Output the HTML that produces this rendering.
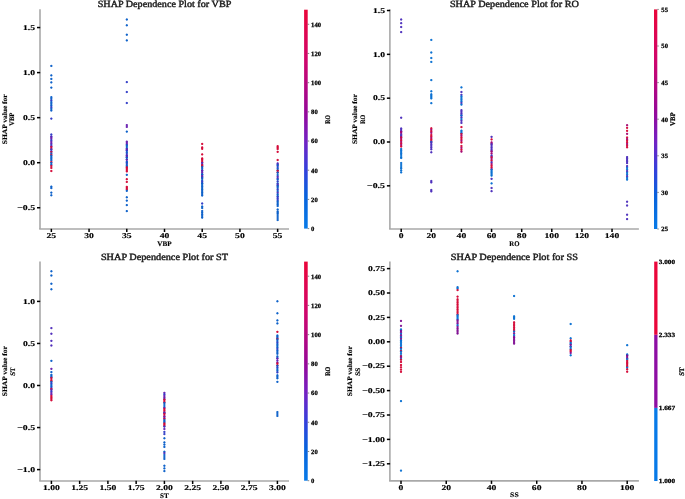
<!DOCTYPE html>
<html><head><meta charset="utf-8"><title>SHAP Dependence Plots</title>
<style>html,body{margin:0;padding:0;background:#fff;width:685px;height:499px;overflow:hidden}svg{display:block;will-change:transform}</style>
</head><body>
<svg width="685" height="499" viewBox="0 0 685 499" font-family="'Liberation Serif', serif" text-rendering="geometricPrecision"><defs><radialGradient id="g0"><stop offset="0.00" stop-color="#075dc8" stop-opacity="1.00"/><stop offset="0.45" stop-color="#075dc8" stop-opacity="0.90"/><stop offset="0.70" stop-color="#075dc8" stop-opacity="0.45"/><stop offset="1.00" stop-color="#075dc8" stop-opacity="0.00"/></radialGradient><radialGradient id="g1"><stop offset="0.00" stop-color="#2e3ac6" stop-opacity="1.00"/><stop offset="0.45" stop-color="#2e3ac6" stop-opacity="0.90"/><stop offset="0.70" stop-color="#2e3ac6" stop-opacity="0.45"/><stop offset="1.00" stop-color="#2e3ac6" stop-opacity="0.00"/></radialGradient><radialGradient id="g2"><stop offset="0.00" stop-color="#671eaf" stop-opacity="1.00"/><stop offset="0.45" stop-color="#671eaf" stop-opacity="0.90"/><stop offset="0.70" stop-color="#671eaf" stop-opacity="0.45"/><stop offset="1.00" stop-color="#671eaf" stop-opacity="0.00"/></radialGradient><radialGradient id="g3"><stop offset="0.00" stop-color="#d30534" stop-opacity="1.00"/><stop offset="0.45" stop-color="#d30534" stop-opacity="0.90"/><stop offset="0.70" stop-color="#d30534" stop-opacity="0.45"/><stop offset="1.00" stop-color="#d30534" stop-opacity="0.00"/></radialGradient><radialGradient id="g4"><stop offset="0.00" stop-color="#4d2aba" stop-opacity="1.00"/><stop offset="0.45" stop-color="#4d2aba" stop-opacity="0.90"/><stop offset="0.70" stop-color="#4d2aba" stop-opacity="0.45"/><stop offset="1.00" stop-color="#4d2aba" stop-opacity="0.00"/></radialGradient><radialGradient id="g5"><stop offset="0.00" stop-color="#4a2cbb" stop-opacity="1.00"/><stop offset="0.45" stop-color="#4a2cbb" stop-opacity="0.90"/><stop offset="0.70" stop-color="#4a2cbb" stop-opacity="0.45"/><stop offset="1.00" stop-color="#4a2cbb" stop-opacity="0.00"/></radialGradient><radialGradient id="g6"><stop offset="0.00" stop-color="#a40672" stop-opacity="1.00"/><stop offset="0.45" stop-color="#a40672" stop-opacity="0.90"/><stop offset="0.70" stop-color="#a40672" stop-opacity="0.45"/><stop offset="1.00" stop-color="#a40672" stop-opacity="0.00"/></radialGradient><radialGradient id="g7"><stop offset="0.00" stop-color="#066ed1" stop-opacity="1.00"/><stop offset="0.45" stop-color="#066ed1" stop-opacity="0.90"/><stop offset="0.70" stop-color="#066ed1" stop-opacity="0.45"/><stop offset="1.00" stop-color="#066ed1" stop-opacity="0.00"/></radialGradient><radialGradient id="g8"><stop offset="0.00" stop-color="#7f0d92" stop-opacity="1.00"/><stop offset="0.45" stop-color="#7f0d92" stop-opacity="0.90"/><stop offset="0.70" stop-color="#7f0d92" stop-opacity="0.45"/><stop offset="1.00" stop-color="#7f0d92" stop-opacity="0.00"/></radialGradient><linearGradient id="cmapgrad" x1="0" y1="0" x2="0" y2="1"><stop offset="0.000" stop-color="#ea063a"/><stop offset="0.030" stop-color="#e7063f"/><stop offset="0.061" stop-color="#e40646"/><stop offset="0.091" stop-color="#e0064d"/><stop offset="0.121" stop-color="#dd0654"/><stop offset="0.152" stop-color="#d9065a"/><stop offset="0.182" stop-color="#d60661"/><stop offset="0.212" stop-color="#d20668"/><stop offset="0.242" stop-color="#cd066e"/><stop offset="0.273" stop-color="#c50674"/><stop offset="0.303" stop-color="#be077a"/><stop offset="0.333" stop-color="#b6077f"/><stop offset="0.364" stop-color="#af0785"/><stop offset="0.394" stop-color="#a7078a"/><stop offset="0.424" stop-color="#a00890"/><stop offset="0.455" stop-color="#980896"/><stop offset="0.485" stop-color="#910b9e"/><stop offset="0.515" stop-color="#8911a8"/><stop offset="0.545" stop-color="#8117b2"/><stop offset="0.576" stop-color="#7a1cbc"/><stop offset="0.606" stop-color="#7023c4"/><stop offset="0.636" stop-color="#612aca"/><stop offset="0.667" stop-color="#5231d0"/><stop offset="0.697" stop-color="#4438d5"/><stop offset="0.727" stop-color="#353fdb"/><stop offset="0.758" stop-color="#2a47dc"/><stop offset="0.788" stop-color="#1f50dc"/><stop offset="0.818" stop-color="#1459dc"/><stop offset="0.848" stop-color="#0961dc"/><stop offset="0.879" stop-color="#0867de"/><stop offset="0.909" stop-color="#086ce0"/><stop offset="0.939" stop-color="#0871e3"/><stop offset="0.970" stop-color="#0876e5"/><stop offset="1.000" stop-color="#077ae8"/></linearGradient></defs><text x="164.50" y="7.40" font-size="9.50" font-weight="normal" text-anchor="middle" textLength="133.61" lengthAdjust="spacingAndGlyphs" fill="#1a1a1a" stroke="#1a1a1a" stroke-width="0.42">SHAP Dependence Plot for VBP</text>
<line x1="40.00" y1="9.20" x2="40.00" y2="229.00" stroke="#a9a9a9" stroke-width="1.60"/>
<line x1="39.20" y1="229.00" x2="289.00" y2="229.00" stroke="#a9a9a9" stroke-width="1.60"/>
<line x1="37.00" y1="207.75" x2="40.20" y2="207.75" stroke="#000" stroke-width="1.50"/>
<text x="35.10" y="209.95" font-size="7.40" font-weight="bold" text-anchor="end" textLength="17.90" lengthAdjust="spacingAndGlyphs" fill="#000" stroke="#000" stroke-width="0.15">−0.5</text>
<line x1="37.00" y1="162.70" x2="40.20" y2="162.70" stroke="#000" stroke-width="1.50"/>
<text x="35.10" y="164.90" font-size="7.40" font-weight="bold" text-anchor="end" textLength="12.08" lengthAdjust="spacingAndGlyphs" fill="#000" stroke="#000" stroke-width="0.15">0.0</text>
<line x1="37.00" y1="117.65" x2="40.20" y2="117.65" stroke="#000" stroke-width="1.50"/>
<text x="35.10" y="119.85" font-size="7.40" font-weight="bold" text-anchor="end" textLength="12.08" lengthAdjust="spacingAndGlyphs" fill="#000" stroke="#000" stroke-width="0.15">0.5</text>
<line x1="37.00" y1="72.60" x2="40.20" y2="72.60" stroke="#000" stroke-width="1.50"/>
<text x="35.10" y="74.80" font-size="7.40" font-weight="bold" text-anchor="end" textLength="12.08" lengthAdjust="spacingAndGlyphs" fill="#000" stroke="#000" stroke-width="0.15">1.0</text>
<line x1="37.00" y1="27.55" x2="40.20" y2="27.55" stroke="#000" stroke-width="1.50"/>
<text x="35.10" y="29.75" font-size="7.40" font-weight="bold" text-anchor="end" textLength="12.08" lengthAdjust="spacingAndGlyphs" fill="#000" stroke="#000" stroke-width="0.15">1.5</text>
<line x1="51.35" y1="228.80" x2="51.35" y2="232.00" stroke="#000" stroke-width="1.50"/>
<text x="51.35" y="238.00" font-size="7.40" font-weight="bold" text-anchor="middle" textLength="9.66" lengthAdjust="spacingAndGlyphs" fill="#000" stroke="#000" stroke-width="0.15">25</text>
<line x1="89.06" y1="228.80" x2="89.06" y2="232.00" stroke="#000" stroke-width="1.50"/>
<text x="89.06" y="238.00" font-size="7.40" font-weight="bold" text-anchor="middle" textLength="9.66" lengthAdjust="spacingAndGlyphs" fill="#000" stroke="#000" stroke-width="0.15">30</text>
<line x1="126.78" y1="228.80" x2="126.78" y2="232.00" stroke="#000" stroke-width="1.50"/>
<text x="126.78" y="238.00" font-size="7.40" font-weight="bold" text-anchor="middle" textLength="9.66" lengthAdjust="spacingAndGlyphs" fill="#000" stroke="#000" stroke-width="0.15">35</text>
<line x1="164.50" y1="228.80" x2="164.50" y2="232.00" stroke="#000" stroke-width="1.50"/>
<text x="164.50" y="238.00" font-size="7.40" font-weight="bold" text-anchor="middle" textLength="9.66" lengthAdjust="spacingAndGlyphs" fill="#000" stroke="#000" stroke-width="0.15">40</text>
<line x1="202.21" y1="228.80" x2="202.21" y2="232.00" stroke="#000" stroke-width="1.50"/>
<text x="202.21" y="238.00" font-size="7.40" font-weight="bold" text-anchor="middle" textLength="9.66" lengthAdjust="spacingAndGlyphs" fill="#000" stroke="#000" stroke-width="0.15">45</text>
<line x1="239.93" y1="228.80" x2="239.93" y2="232.00" stroke="#000" stroke-width="1.50"/>
<text x="239.93" y="238.00" font-size="7.40" font-weight="bold" text-anchor="middle" textLength="9.66" lengthAdjust="spacingAndGlyphs" fill="#000" stroke="#000" stroke-width="0.15">50</text>
<line x1="277.64" y1="228.80" x2="277.64" y2="232.00" stroke="#000" stroke-width="1.50"/>
<text x="277.64" y="238.00" font-size="7.40" font-weight="bold" text-anchor="middle" textLength="9.66" lengthAdjust="spacingAndGlyphs" fill="#000" stroke="#000" stroke-width="0.15">55</text>
<text x="164.50" y="245.50" font-size="7.00" font-weight="bold" text-anchor="middle" textLength="14.24" lengthAdjust="spacingAndGlyphs" fill="#000" stroke="#000" stroke-width="0.15">VBP</text>
<text x="7.00" y="119.30" font-size="6.90" font-weight="bold" text-anchor="middle" textLength="49.89" lengthAdjust="spacingAndGlyphs" fill="#000" transform="rotate(-90 7.00 119.30)" stroke="#000" stroke-width="0.15">SHAP value for</text>
<text x="13.90" y="119.20" font-size="6.90" font-weight="bold" text-anchor="middle" textLength="13.10" lengthAdjust="spacingAndGlyphs" fill="#000" transform="rotate(-90 13.90 119.20)" stroke="#000" stroke-width="0.15">VBP</text>
<rect x="304.10" y="9.70" width="3.60" height="218.90" fill="url(#cmapgrad)"/>
<line x1="307.70" y1="228.60" x2="309.20" y2="228.60" stroke="#555" stroke-width="0.70"/>
<text x="311.10" y="230.94" font-size="6.50" font-weight="bold" text-anchor="start" textLength="3.34" lengthAdjust="spacingAndGlyphs" fill="#000" stroke="#000" stroke-width="0.25">0</text>
<line x1="307.70" y1="199.41" x2="309.20" y2="199.41" stroke="#555" stroke-width="0.70"/>
<text x="311.10" y="201.75" font-size="6.50" font-weight="bold" text-anchor="start" textLength="6.68" lengthAdjust="spacingAndGlyphs" fill="#000" stroke="#000" stroke-width="0.25">20</text>
<line x1="307.70" y1="170.23" x2="309.20" y2="170.23" stroke="#555" stroke-width="0.70"/>
<text x="311.10" y="172.57" font-size="6.50" font-weight="bold" text-anchor="start" textLength="6.68" lengthAdjust="spacingAndGlyphs" fill="#000" stroke="#000" stroke-width="0.25">40</text>
<line x1="307.70" y1="141.04" x2="309.20" y2="141.04" stroke="#555" stroke-width="0.70"/>
<text x="311.10" y="143.38" font-size="6.50" font-weight="bold" text-anchor="start" textLength="6.68" lengthAdjust="spacingAndGlyphs" fill="#000" stroke="#000" stroke-width="0.25">60</text>
<line x1="307.70" y1="111.85" x2="309.20" y2="111.85" stroke="#555" stroke-width="0.70"/>
<text x="311.10" y="114.19" font-size="6.50" font-weight="bold" text-anchor="start" textLength="6.68" lengthAdjust="spacingAndGlyphs" fill="#000" stroke="#000" stroke-width="0.25">80</text>
<line x1="307.70" y1="82.67" x2="309.20" y2="82.67" stroke="#555" stroke-width="0.70"/>
<text x="311.10" y="85.01" font-size="6.50" font-weight="bold" text-anchor="start" textLength="10.02" lengthAdjust="spacingAndGlyphs" fill="#000" stroke="#000" stroke-width="0.25">100</text>
<line x1="307.70" y1="53.48" x2="309.20" y2="53.48" stroke="#555" stroke-width="0.70"/>
<text x="311.10" y="55.82" font-size="6.50" font-weight="bold" text-anchor="start" textLength="10.02" lengthAdjust="spacingAndGlyphs" fill="#000" stroke="#000" stroke-width="0.25">120</text>
<line x1="307.70" y1="24.29" x2="309.20" y2="24.29" stroke="#555" stroke-width="0.70"/>
<text x="311.10" y="26.63" font-size="6.50" font-weight="bold" text-anchor="start" textLength="10.02" lengthAdjust="spacingAndGlyphs" fill="#000" stroke="#000" stroke-width="0.25">140</text>
<text x="329.60" y="119.40" font-size="7.00" font-weight="bold" text-anchor="middle" textLength="8.70" lengthAdjust="spacingAndGlyphs" fill="#000" transform="rotate(-90 329.60 119.40)" stroke="#000" stroke-width="0.25">RO</text>
<g>
<circle cx="51.35" cy="65.90" r="1.65" fill="url(#g0)"/>
<circle cx="51.35" cy="75.40" r="1.65" fill="url(#g0)"/>
<circle cx="51.35" cy="78.90" r="1.65" fill="url(#g0)"/>
<circle cx="51.35" cy="82.40" r="1.65" fill="url(#g0)"/>
<circle cx="51.35" cy="87.60" r="1.65" fill="url(#g0)"/>
<circle cx="51.35" cy="97.20" r="1.65" fill="url(#g0)"/>
<circle cx="51.35" cy="98.86" r="1.65" fill="url(#g0)"/>
<circle cx="51.35" cy="100.53" r="1.65" fill="url(#g1)"/>
<circle cx="51.35" cy="102.19" r="1.65" fill="url(#g0)"/>
<circle cx="51.35" cy="103.85" r="1.65" fill="url(#g0)"/>
<circle cx="51.35" cy="105.51" r="1.65" fill="url(#g0)"/>
<circle cx="51.35" cy="107.17" r="1.65" fill="url(#g1)"/>
<circle cx="51.35" cy="108.84" r="1.65" fill="url(#g0)"/>
<circle cx="51.35" cy="110.50" r="1.65" fill="url(#g0)"/>
<circle cx="51.35" cy="118.60" r="1.65" fill="url(#g1)"/>
<circle cx="51.35" cy="134.50" r="1.65" fill="url(#g1)"/>
<circle cx="51.35" cy="136.50" r="1.65" fill="url(#g1)"/>
<circle cx="51.35" cy="137.20" r="1.65" fill="url(#g2)"/>
<circle cx="51.35" cy="138.75" r="1.65" fill="url(#g2)"/>
<circle cx="51.35" cy="140.30" r="1.65" fill="url(#g1)"/>
<circle cx="51.35" cy="141.85" r="1.65" fill="url(#g2)"/>
<circle cx="51.35" cy="143.40" r="1.65" fill="url(#g2)"/>
<circle cx="51.35" cy="144.95" r="1.65" fill="url(#g1)"/>
<circle cx="51.35" cy="146.50" r="1.65" fill="url(#g2)"/>
<circle cx="51.35" cy="147.10" r="1.65" fill="url(#g3)"/>
<circle cx="51.35" cy="148.90" r="1.65" fill="url(#g3)"/>
<circle cx="51.35" cy="149.40" r="1.65" fill="url(#g1)"/>
<circle cx="51.35" cy="151.20" r="1.65" fill="url(#g1)"/>
<circle cx="51.35" cy="152.00" r="1.65" fill="url(#g3)"/>
<circle cx="51.35" cy="153.50" r="1.65" fill="url(#g0)"/>
<circle cx="51.35" cy="154.80" r="1.65" fill="url(#g3)"/>
<circle cx="51.35" cy="155.70" r="1.65" fill="url(#g0)"/>
<circle cx="51.35" cy="157.20" r="1.65" fill="url(#g0)"/>
<circle cx="51.35" cy="158.70" r="1.65" fill="url(#g0)"/>
<circle cx="51.35" cy="160.20" r="1.65" fill="url(#g0)"/>
<circle cx="51.35" cy="162.00" r="1.65" fill="url(#g3)"/>
<circle cx="51.35" cy="162.90" r="1.65" fill="url(#g0)"/>
<circle cx="51.35" cy="164.70" r="1.65" fill="url(#g0)"/>
<circle cx="51.35" cy="166.00" r="1.65" fill="url(#g3)"/>
<circle cx="51.35" cy="167.90" r="1.65" fill="url(#g3)"/>
<circle cx="51.35" cy="171.00" r="1.65" fill="url(#g3)"/>
<circle cx="51.35" cy="186.60" r="1.65" fill="url(#g0)"/>
<circle cx="51.35" cy="188.10" r="1.65" fill="url(#g0)"/>
<circle cx="51.35" cy="192.60" r="1.65" fill="url(#g0)"/>
<circle cx="51.35" cy="195.30" r="1.65" fill="url(#g0)"/>
<circle cx="126.78" cy="19.50" r="1.65" fill="url(#g0)"/>
<circle cx="126.78" cy="25.30" r="1.65" fill="url(#g0)"/>
<circle cx="126.78" cy="34.70" r="1.65" fill="url(#g0)"/>
<circle cx="126.78" cy="40.40" r="1.65" fill="url(#g0)"/>
<circle cx="126.78" cy="82.10" r="1.65" fill="url(#g1)"/>
<circle cx="126.78" cy="92.00" r="1.65" fill="url(#g1)"/>
<circle cx="126.78" cy="103.00" r="1.65" fill="url(#g1)"/>
<circle cx="126.78" cy="125.10" r="1.65" fill="url(#g2)"/>
<circle cx="126.78" cy="126.90" r="1.65" fill="url(#g2)"/>
<circle cx="126.78" cy="131.60" r="1.65" fill="url(#g0)"/>
<circle cx="126.78" cy="141.60" r="1.65" fill="url(#g2)"/>
<circle cx="126.78" cy="142.95" r="1.65" fill="url(#g2)"/>
<circle cx="126.78" cy="144.30" r="1.65" fill="url(#g2)"/>
<circle cx="126.78" cy="145.30" r="1.65" fill="url(#g0)"/>
<circle cx="126.78" cy="146.90" r="1.65" fill="url(#g0)"/>
<circle cx="126.78" cy="148.50" r="1.65" fill="url(#g0)"/>
<circle cx="126.78" cy="149.20" r="1.65" fill="url(#g2)"/>
<circle cx="126.78" cy="150.20" r="1.65" fill="url(#g2)"/>
<circle cx="126.78" cy="150.80" r="1.65" fill="url(#g1)"/>
<circle cx="126.78" cy="152.40" r="1.65" fill="url(#g0)"/>
<circle cx="126.78" cy="154.00" r="1.65" fill="url(#g1)"/>
<circle cx="126.78" cy="155.60" r="1.65" fill="url(#g1)"/>
<circle cx="126.78" cy="156.00" r="1.65" fill="url(#g2)"/>
<circle cx="126.78" cy="157.20" r="1.65" fill="url(#g2)"/>
<circle cx="126.78" cy="157.60" r="1.65" fill="url(#g0)"/>
<circle cx="126.78" cy="159.30" r="1.65" fill="url(#g0)"/>
<circle cx="126.78" cy="159.80" r="1.65" fill="url(#g2)"/>
<circle cx="126.78" cy="161.80" r="1.65" fill="url(#g1)"/>
<circle cx="126.78" cy="162.40" r="1.65" fill="url(#g0)"/>
<circle cx="126.78" cy="163.83" r="1.65" fill="url(#g1)"/>
<circle cx="126.78" cy="165.27" r="1.65" fill="url(#g0)"/>
<circle cx="126.78" cy="166.70" r="1.65" fill="url(#g0)"/>
<circle cx="126.78" cy="167.30" r="1.65" fill="url(#g3)"/>
<circle cx="126.78" cy="168.67" r="1.65" fill="url(#g3)"/>
<circle cx="126.78" cy="170.03" r="1.65" fill="url(#g3)"/>
<circle cx="126.78" cy="171.40" r="1.65" fill="url(#g3)"/>
<circle cx="126.78" cy="174.80" r="1.65" fill="url(#g0)"/>
<circle cx="126.78" cy="179.20" r="1.65" fill="url(#g3)"/>
<circle cx="126.78" cy="181.90" r="1.65" fill="url(#g3)"/>
<circle cx="126.78" cy="186.80" r="1.65" fill="url(#g3)"/>
<circle cx="126.78" cy="188.05" r="1.65" fill="url(#g3)"/>
<circle cx="126.78" cy="189.30" r="1.65" fill="url(#g3)"/>
<circle cx="126.78" cy="190.80" r="1.65" fill="url(#g0)"/>
<circle cx="126.78" cy="197.30" r="1.65" fill="url(#g0)"/>
<circle cx="126.78" cy="200.60" r="1.65" fill="url(#g0)"/>
<circle cx="126.78" cy="205.10" r="1.65" fill="url(#g0)"/>
<circle cx="126.78" cy="211.10" r="1.65" fill="url(#g0)"/>
<circle cx="202.21" cy="143.90" r="1.65" fill="url(#g3)"/>
<circle cx="202.21" cy="147.40" r="1.65" fill="url(#g3)"/>
<circle cx="202.21" cy="148.80" r="1.65" fill="url(#g3)"/>
<circle cx="202.21" cy="154.40" r="1.65" fill="url(#g3)"/>
<circle cx="202.21" cy="158.40" r="1.65" fill="url(#g3)"/>
<circle cx="202.21" cy="159.40" r="1.65" fill="url(#g3)"/>
<circle cx="202.21" cy="160.95" r="1.65" fill="url(#g3)"/>
<circle cx="202.21" cy="162.50" r="1.65" fill="url(#g3)"/>
<circle cx="202.21" cy="163.00" r="1.65" fill="url(#g4)"/>
<circle cx="202.21" cy="164.80" r="1.65" fill="url(#g4)"/>
<circle cx="202.21" cy="165.20" r="1.65" fill="url(#g3)"/>
<circle cx="202.21" cy="166.60" r="1.65" fill="url(#g3)"/>
<circle cx="202.21" cy="167.00" r="1.65" fill="url(#g0)"/>
<circle cx="202.21" cy="168.85" r="1.65" fill="url(#g0)"/>
<circle cx="202.21" cy="170.70" r="1.65" fill="url(#g0)"/>
<circle cx="202.21" cy="170.70" r="1.65" fill="url(#g2)"/>
<circle cx="202.21" cy="172.50" r="1.65" fill="url(#g2)"/>
<circle cx="202.21" cy="174.30" r="1.65" fill="url(#g2)"/>
<circle cx="202.21" cy="174.30" r="1.65" fill="url(#g0)"/>
<circle cx="202.21" cy="176.10" r="1.65" fill="url(#g0)"/>
<circle cx="202.21" cy="176.10" r="1.65" fill="url(#g2)"/>
<circle cx="202.21" cy="177.90" r="1.65" fill="url(#g2)"/>
<circle cx="202.21" cy="177.90" r="1.65" fill="url(#g0)"/>
<circle cx="202.21" cy="180.10" r="1.65" fill="url(#g0)"/>
<circle cx="202.21" cy="181.50" r="1.65" fill="url(#g1)"/>
<circle cx="202.21" cy="183.00" r="1.65" fill="url(#g1)"/>
<circle cx="202.21" cy="183.50" r="1.65" fill="url(#g0)"/>
<circle cx="202.21" cy="185.00" r="1.65" fill="url(#g0)"/>
<circle cx="202.21" cy="186.50" r="1.65" fill="url(#g0)"/>
<circle cx="202.21" cy="188.00" r="1.65" fill="url(#g0)"/>
<circle cx="202.21" cy="189.50" r="1.65" fill="url(#g0)"/>
<circle cx="202.21" cy="191.00" r="1.65" fill="url(#g0)"/>
<circle cx="202.21" cy="192.50" r="1.65" fill="url(#g0)"/>
<circle cx="202.21" cy="194.00" r="1.65" fill="url(#g0)"/>
<circle cx="202.21" cy="195.50" r="1.65" fill="url(#g0)"/>
<circle cx="202.21" cy="203.50" r="1.65" fill="url(#g1)"/>
<circle cx="202.21" cy="206.50" r="1.65" fill="url(#g0)"/>
<circle cx="202.21" cy="208.00" r="1.65" fill="url(#g0)"/>
<circle cx="202.21" cy="211.00" r="1.65" fill="url(#g0)"/>
<circle cx="202.21" cy="212.65" r="1.65" fill="url(#g0)"/>
<circle cx="202.21" cy="214.30" r="1.65" fill="url(#g0)"/>
<circle cx="202.21" cy="215.95" r="1.65" fill="url(#g0)"/>
<circle cx="202.21" cy="217.60" r="1.65" fill="url(#g0)"/>
<circle cx="277.64" cy="146.20" r="1.65" fill="url(#g3)"/>
<circle cx="277.64" cy="147.60" r="1.65" fill="url(#g3)"/>
<circle cx="277.64" cy="149.00" r="1.65" fill="url(#g3)"/>
<circle cx="277.64" cy="151.80" r="1.65" fill="url(#g3)"/>
<circle cx="277.64" cy="160.00" r="1.65" fill="url(#g3)"/>
<circle cx="277.64" cy="163.40" r="1.65" fill="url(#g4)"/>
<circle cx="277.64" cy="164.60" r="1.65" fill="url(#g4)"/>
<circle cx="277.64" cy="165.40" r="1.65" fill="url(#g0)"/>
<circle cx="277.64" cy="167.03" r="1.65" fill="url(#g1)"/>
<circle cx="277.64" cy="168.67" r="1.65" fill="url(#g0)"/>
<circle cx="277.64" cy="170.30" r="1.65" fill="url(#g0)"/>
<circle cx="277.64" cy="170.70" r="1.65" fill="url(#g3)"/>
<circle cx="277.64" cy="172.30" r="1.65" fill="url(#g3)"/>
<circle cx="277.64" cy="172.70" r="1.65" fill="url(#g0)"/>
<circle cx="277.64" cy="175.00" r="1.65" fill="url(#g0)"/>
<circle cx="277.64" cy="176.70" r="1.65" fill="url(#g4)"/>
<circle cx="277.64" cy="178.30" r="1.65" fill="url(#g4)"/>
<circle cx="277.64" cy="179.50" r="1.65" fill="url(#g0)"/>
<circle cx="277.64" cy="181.45" r="1.65" fill="url(#g1)"/>
<circle cx="277.64" cy="183.40" r="1.65" fill="url(#g0)"/>
<circle cx="277.64" cy="184.30" r="1.65" fill="url(#g4)"/>
<circle cx="277.64" cy="185.70" r="1.65" fill="url(#g4)"/>
<circle cx="277.64" cy="186.10" r="1.65" fill="url(#g0)"/>
<circle cx="277.64" cy="187.77" r="1.65" fill="url(#g0)"/>
<circle cx="277.64" cy="189.43" r="1.65" fill="url(#g1)"/>
<circle cx="277.64" cy="191.10" r="1.65" fill="url(#g0)"/>
<circle cx="277.64" cy="192.77" r="1.65" fill="url(#g4)"/>
<circle cx="277.64" cy="194.43" r="1.65" fill="url(#g0)"/>
<circle cx="277.64" cy="196.10" r="1.65" fill="url(#g0)"/>
<circle cx="277.64" cy="197.00" r="1.65" fill="url(#g1)"/>
<circle cx="277.64" cy="198.55" r="1.65" fill="url(#g1)"/>
<circle cx="277.64" cy="200.10" r="1.65" fill="url(#g1)"/>
<circle cx="277.64" cy="201.50" r="1.65" fill="url(#g0)"/>
<circle cx="277.64" cy="203.00" r="1.65" fill="url(#g0)"/>
<circle cx="277.64" cy="204.50" r="1.65" fill="url(#g0)"/>
<circle cx="277.64" cy="206.00" r="1.65" fill="url(#g0)"/>
<circle cx="277.64" cy="209.50" r="1.65" fill="url(#g0)"/>
<circle cx="277.64" cy="211.50" r="1.65" fill="url(#g0)"/>
<circle cx="277.64" cy="212.75" r="1.65" fill="url(#g0)"/>
<circle cx="277.64" cy="214.00" r="1.65" fill="url(#g0)"/>
<circle cx="277.64" cy="216.00" r="1.65" fill="url(#g0)"/>
<circle cx="277.64" cy="218.00" r="1.65" fill="url(#g0)"/>
<circle cx="277.64" cy="220.00" r="1.65" fill="url(#g0)"/>
</g>
<text x="514.40" y="7.40" font-size="9.50" font-weight="normal" text-anchor="middle" textLength="128.99" lengthAdjust="spacingAndGlyphs" fill="#1a1a1a" stroke="#1a1a1a" stroke-width="0.42">SHAP Dependence Plot for RO</text>
<line x1="389.90" y1="9.20" x2="389.90" y2="229.00" stroke="#a9a9a9" stroke-width="1.60"/>
<line x1="389.10" y1="229.00" x2="638.90" y2="229.00" stroke="#a9a9a9" stroke-width="1.60"/>
<line x1="386.90" y1="185.82" x2="390.10" y2="185.82" stroke="#000" stroke-width="1.50"/>
<text x="385.00" y="188.02" font-size="7.40" font-weight="bold" text-anchor="end" textLength="17.90" lengthAdjust="spacingAndGlyphs" fill="#000" stroke="#000" stroke-width="0.15">−0.5</text>
<line x1="386.90" y1="142.00" x2="390.10" y2="142.00" stroke="#000" stroke-width="1.50"/>
<text x="385.00" y="144.20" font-size="7.40" font-weight="bold" text-anchor="end" textLength="12.08" lengthAdjust="spacingAndGlyphs" fill="#000" stroke="#000" stroke-width="0.15">0.0</text>
<line x1="386.90" y1="98.17" x2="390.10" y2="98.17" stroke="#000" stroke-width="1.50"/>
<text x="385.00" y="100.38" font-size="7.40" font-weight="bold" text-anchor="end" textLength="12.08" lengthAdjust="spacingAndGlyphs" fill="#000" stroke="#000" stroke-width="0.15">0.5</text>
<line x1="386.90" y1="54.35" x2="390.10" y2="54.35" stroke="#000" stroke-width="1.50"/>
<text x="385.00" y="56.55" font-size="7.40" font-weight="bold" text-anchor="end" textLength="12.08" lengthAdjust="spacingAndGlyphs" fill="#000" stroke="#000" stroke-width="0.15">1.0</text>
<line x1="386.90" y1="10.52" x2="390.10" y2="10.52" stroke="#000" stroke-width="1.50"/>
<text x="385.00" y="12.72" font-size="7.40" font-weight="bold" text-anchor="end" textLength="12.08" lengthAdjust="spacingAndGlyphs" fill="#000" stroke="#000" stroke-width="0.15">1.5</text>
<line x1="401.20" y1="228.80" x2="401.20" y2="232.00" stroke="#000" stroke-width="1.50"/>
<text x="401.20" y="238.00" font-size="7.40" font-weight="bold" text-anchor="middle" textLength="4.83" lengthAdjust="spacingAndGlyphs" fill="#000" stroke="#000" stroke-width="0.15">0</text>
<line x1="431.32" y1="228.80" x2="431.32" y2="232.00" stroke="#000" stroke-width="1.50"/>
<text x="431.32" y="238.00" font-size="7.40" font-weight="bold" text-anchor="middle" textLength="9.66" lengthAdjust="spacingAndGlyphs" fill="#000" stroke="#000" stroke-width="0.15">20</text>
<line x1="461.44" y1="228.80" x2="461.44" y2="232.00" stroke="#000" stroke-width="1.50"/>
<text x="461.44" y="238.00" font-size="7.40" font-weight="bold" text-anchor="middle" textLength="9.66" lengthAdjust="spacingAndGlyphs" fill="#000" stroke="#000" stroke-width="0.15">40</text>
<line x1="491.56" y1="228.80" x2="491.56" y2="232.00" stroke="#000" stroke-width="1.50"/>
<text x="491.56" y="238.00" font-size="7.40" font-weight="bold" text-anchor="middle" textLength="9.66" lengthAdjust="spacingAndGlyphs" fill="#000" stroke="#000" stroke-width="0.15">60</text>
<line x1="521.68" y1="228.80" x2="521.68" y2="232.00" stroke="#000" stroke-width="1.50"/>
<text x="521.68" y="238.00" font-size="7.40" font-weight="bold" text-anchor="middle" textLength="9.66" lengthAdjust="spacingAndGlyphs" fill="#000" stroke="#000" stroke-width="0.15">80</text>
<line x1="551.80" y1="228.80" x2="551.80" y2="232.00" stroke="#000" stroke-width="1.50"/>
<text x="551.80" y="238.00" font-size="7.40" font-weight="bold" text-anchor="middle" textLength="14.49" lengthAdjust="spacingAndGlyphs" fill="#000" stroke="#000" stroke-width="0.15">100</text>
<line x1="581.92" y1="228.80" x2="581.92" y2="232.00" stroke="#000" stroke-width="1.50"/>
<text x="581.92" y="238.00" font-size="7.40" font-weight="bold" text-anchor="middle" textLength="14.49" lengthAdjust="spacingAndGlyphs" fill="#000" stroke="#000" stroke-width="0.15">120</text>
<line x1="612.04" y1="228.80" x2="612.04" y2="232.00" stroke="#000" stroke-width="1.50"/>
<text x="612.04" y="238.00" font-size="7.40" font-weight="bold" text-anchor="middle" textLength="14.49" lengthAdjust="spacingAndGlyphs" fill="#000" stroke="#000" stroke-width="0.15">140</text>
<text x="514.40" y="245.50" font-size="7.00" font-weight="bold" text-anchor="middle" textLength="10.21" lengthAdjust="spacingAndGlyphs" fill="#000" stroke="#000" stroke-width="0.15">RO</text>
<text x="356.80" y="119.10" font-size="6.90" font-weight="bold" text-anchor="middle" textLength="49.89" lengthAdjust="spacingAndGlyphs" fill="#000" transform="rotate(-90 356.80 119.10)" stroke="#000" stroke-width="0.15">SHAP value for</text>
<text x="364.50" y="119.25" font-size="6.90" font-weight="bold" text-anchor="middle" textLength="9.10" lengthAdjust="spacingAndGlyphs" fill="#000" transform="rotate(-90 364.50 119.25)" stroke="#000" stroke-width="0.15">RO</text>
<rect x="654.00" y="9.40" width="3.30" height="219.60" fill="url(#cmapgrad)"/>
<line x1="657.30" y1="229.00" x2="658.80" y2="229.00" stroke="#555" stroke-width="0.70"/>
<text x="661.30" y="231.34" font-size="6.50" font-weight="bold" text-anchor="start" textLength="6.68" lengthAdjust="spacingAndGlyphs" fill="#000" stroke="#000" stroke-width="0.25">25</text>
<line x1="657.30" y1="192.40" x2="658.80" y2="192.40" stroke="#555" stroke-width="0.70"/>
<text x="661.30" y="194.74" font-size="6.50" font-weight="bold" text-anchor="start" textLength="6.68" lengthAdjust="spacingAndGlyphs" fill="#000" stroke="#000" stroke-width="0.25">30</text>
<line x1="657.30" y1="155.80" x2="658.80" y2="155.80" stroke="#555" stroke-width="0.70"/>
<text x="661.30" y="158.14" font-size="6.50" font-weight="bold" text-anchor="start" textLength="6.68" lengthAdjust="spacingAndGlyphs" fill="#000" stroke="#000" stroke-width="0.25">35</text>
<line x1="657.30" y1="119.20" x2="658.80" y2="119.20" stroke="#555" stroke-width="0.70"/>
<text x="661.30" y="121.54" font-size="6.50" font-weight="bold" text-anchor="start" textLength="6.68" lengthAdjust="spacingAndGlyphs" fill="#000" stroke="#000" stroke-width="0.25">40</text>
<line x1="657.30" y1="82.60" x2="658.80" y2="82.60" stroke="#555" stroke-width="0.70"/>
<text x="661.30" y="84.94" font-size="6.50" font-weight="bold" text-anchor="start" textLength="6.68" lengthAdjust="spacingAndGlyphs" fill="#000" stroke="#000" stroke-width="0.25">45</text>
<line x1="657.30" y1="46.00" x2="658.80" y2="46.00" stroke="#555" stroke-width="0.70"/>
<text x="661.30" y="48.34" font-size="6.50" font-weight="bold" text-anchor="start" textLength="6.68" lengthAdjust="spacingAndGlyphs" fill="#000" stroke="#000" stroke-width="0.25">50</text>
<line x1="657.30" y1="9.40" x2="658.80" y2="9.40" stroke="#555" stroke-width="0.70"/>
<text x="661.30" y="11.74" font-size="6.50" font-weight="bold" text-anchor="start" textLength="6.68" lengthAdjust="spacingAndGlyphs" fill="#000" stroke="#000" stroke-width="0.25">55</text>
<text x="675.30" y="119.20" font-size="7.00" font-weight="bold" text-anchor="middle" textLength="13.40" lengthAdjust="spacingAndGlyphs" fill="#000" transform="rotate(-90 675.30 119.20)" stroke="#000" stroke-width="0.25">VBP</text>
<g>
<circle cx="401.20" cy="19.50" r="1.65" fill="url(#g5)"/>
<circle cx="401.20" cy="23.20" r="1.65" fill="url(#g5)"/>
<circle cx="401.20" cy="27.00" r="1.65" fill="url(#g5)"/>
<circle cx="401.20" cy="32.10" r="1.65" fill="url(#g5)"/>
<circle cx="401.20" cy="117.70" r="1.65" fill="url(#g5)"/>
<circle cx="401.20" cy="128.50" r="1.65" fill="url(#g5)"/>
<circle cx="401.20" cy="130.00" r="1.65" fill="url(#g5)"/>
<circle cx="401.20" cy="131.50" r="1.65" fill="url(#g5)"/>
<circle cx="401.20" cy="131.80" r="1.65" fill="url(#g6)"/>
<circle cx="401.20" cy="133.00" r="1.65" fill="url(#g6)"/>
<circle cx="401.20" cy="134.50" r="1.65" fill="url(#g5)"/>
<circle cx="401.20" cy="135.75" r="1.65" fill="url(#g5)"/>
<circle cx="401.20" cy="137.00" r="1.65" fill="url(#g5)"/>
<circle cx="401.20" cy="137.40" r="1.65" fill="url(#g3)"/>
<circle cx="401.20" cy="138.92" r="1.65" fill="url(#g6)"/>
<circle cx="401.20" cy="140.43" r="1.65" fill="url(#g3)"/>
<circle cx="401.20" cy="141.95" r="1.65" fill="url(#g6)"/>
<circle cx="401.20" cy="143.47" r="1.65" fill="url(#g3)"/>
<circle cx="401.20" cy="144.98" r="1.65" fill="url(#g6)"/>
<circle cx="401.20" cy="146.50" r="1.65" fill="url(#g3)"/>
<circle cx="401.20" cy="149.00" r="1.65" fill="url(#g7)"/>
<circle cx="401.20" cy="150.50" r="1.65" fill="url(#g7)"/>
<circle cx="401.20" cy="152.00" r="1.65" fill="url(#g7)"/>
<circle cx="401.20" cy="153.50" r="1.65" fill="url(#g7)"/>
<circle cx="401.20" cy="155.00" r="1.65" fill="url(#g7)"/>
<circle cx="401.20" cy="157.00" r="1.65" fill="url(#g7)"/>
<circle cx="401.20" cy="158.00" r="1.65" fill="url(#g7)"/>
<circle cx="401.20" cy="163.00" r="1.65" fill="url(#g7)"/>
<circle cx="401.20" cy="165.00" r="1.65" fill="url(#g7)"/>
<circle cx="401.20" cy="167.00" r="1.65" fill="url(#g7)"/>
<circle cx="401.20" cy="168.50" r="1.65" fill="url(#g7)"/>
<circle cx="401.20" cy="170.45" r="1.65" fill="url(#g7)"/>
<circle cx="401.20" cy="172.40" r="1.65" fill="url(#g7)"/>
<circle cx="431.32" cy="39.90" r="1.65" fill="url(#g7)"/>
<circle cx="431.32" cy="52.50" r="1.65" fill="url(#g7)"/>
<circle cx="431.32" cy="58.00" r="1.65" fill="url(#g7)"/>
<circle cx="431.32" cy="61.90" r="1.65" fill="url(#g7)"/>
<circle cx="431.32" cy="80.10" r="1.65" fill="url(#g7)"/>
<circle cx="431.32" cy="91.30" r="1.65" fill="url(#g7)"/>
<circle cx="431.32" cy="94.30" r="1.65" fill="url(#g7)"/>
<circle cx="431.32" cy="95.67" r="1.65" fill="url(#g7)"/>
<circle cx="431.32" cy="97.03" r="1.65" fill="url(#g7)"/>
<circle cx="431.32" cy="98.40" r="1.65" fill="url(#g7)"/>
<circle cx="431.32" cy="103.20" r="1.65" fill="url(#g7)"/>
<circle cx="431.32" cy="128.30" r="1.65" fill="url(#g3)"/>
<circle cx="431.32" cy="129.80" r="1.65" fill="url(#g6)"/>
<circle cx="431.32" cy="131.30" r="1.65" fill="url(#g3)"/>
<circle cx="431.32" cy="132.80" r="1.65" fill="url(#g6)"/>
<circle cx="431.32" cy="135.00" r="1.65" fill="url(#g3)"/>
<circle cx="431.32" cy="136.50" r="1.65" fill="url(#g3)"/>
<circle cx="431.32" cy="138.00" r="1.65" fill="url(#g6)"/>
<circle cx="431.32" cy="139.50" r="1.65" fill="url(#g3)"/>
<circle cx="431.32" cy="141.00" r="1.65" fill="url(#g3)"/>
<circle cx="431.32" cy="141.80" r="1.65" fill="url(#g7)"/>
<circle cx="431.32" cy="142.50" r="1.65" fill="url(#g5)"/>
<circle cx="431.32" cy="144.20" r="1.65" fill="url(#g5)"/>
<circle cx="431.32" cy="145.90" r="1.65" fill="url(#g5)"/>
<circle cx="431.32" cy="147.60" r="1.65" fill="url(#g5)"/>
<circle cx="431.32" cy="149.30" r="1.65" fill="url(#g5)"/>
<circle cx="431.32" cy="152.30" r="1.65" fill="url(#g5)"/>
<circle cx="431.32" cy="181.00" r="1.65" fill="url(#g5)"/>
<circle cx="431.32" cy="182.40" r="1.65" fill="url(#g5)"/>
<circle cx="431.32" cy="190.00" r="1.65" fill="url(#g5)"/>
<circle cx="431.32" cy="191.40" r="1.65" fill="url(#g5)"/>
<circle cx="461.44" cy="87.40" r="1.65" fill="url(#g7)"/>
<circle cx="461.44" cy="92.00" r="1.65" fill="url(#g5)"/>
<circle cx="461.44" cy="94.80" r="1.65" fill="url(#g5)"/>
<circle cx="461.44" cy="96.43" r="1.65" fill="url(#g7)"/>
<circle cx="461.44" cy="98.07" r="1.65" fill="url(#g7)"/>
<circle cx="461.44" cy="99.70" r="1.65" fill="url(#g7)"/>
<circle cx="461.44" cy="101.33" r="1.65" fill="url(#g7)"/>
<circle cx="461.44" cy="102.97" r="1.65" fill="url(#g5)"/>
<circle cx="461.44" cy="104.60" r="1.65" fill="url(#g7)"/>
<circle cx="461.44" cy="110.20" r="1.65" fill="url(#g5)"/>
<circle cx="461.44" cy="111.80" r="1.65" fill="url(#g5)"/>
<circle cx="461.44" cy="113.40" r="1.65" fill="url(#g5)"/>
<circle cx="461.44" cy="115.00" r="1.65" fill="url(#g5)"/>
<circle cx="461.44" cy="115.60" r="1.65" fill="url(#g7)"/>
<circle cx="461.44" cy="117.33" r="1.65" fill="url(#g5)"/>
<circle cx="461.44" cy="119.07" r="1.65" fill="url(#g7)"/>
<circle cx="461.44" cy="120.80" r="1.65" fill="url(#g5)"/>
<circle cx="461.44" cy="122.90" r="1.65" fill="url(#g5)"/>
<circle cx="461.44" cy="127.10" r="1.65" fill="url(#g3)"/>
<circle cx="461.44" cy="130.60" r="1.65" fill="url(#g7)"/>
<circle cx="461.44" cy="132.00" r="1.65" fill="url(#g7)"/>
<circle cx="461.44" cy="133.40" r="1.65" fill="url(#g7)"/>
<circle cx="461.44" cy="134.00" r="1.65" fill="url(#g3)"/>
<circle cx="461.44" cy="135.70" r="1.65" fill="url(#g6)"/>
<circle cx="461.44" cy="137.40" r="1.65" fill="url(#g3)"/>
<circle cx="461.44" cy="139.10" r="1.65" fill="url(#g3)"/>
<circle cx="461.44" cy="140.80" r="1.65" fill="url(#g6)"/>
<circle cx="461.44" cy="142.50" r="1.65" fill="url(#g3)"/>
<circle cx="461.44" cy="146.00" r="1.65" fill="url(#g3)"/>
<circle cx="461.44" cy="147.87" r="1.65" fill="url(#g6)"/>
<circle cx="461.44" cy="149.73" r="1.65" fill="url(#g3)"/>
<circle cx="461.44" cy="151.60" r="1.65" fill="url(#g6)"/>
<circle cx="491.56" cy="136.80" r="1.65" fill="url(#g5)"/>
<circle cx="491.56" cy="139.40" r="1.65" fill="url(#g3)"/>
<circle cx="491.56" cy="142.40" r="1.65" fill="url(#g6)"/>
<circle cx="491.56" cy="143.70" r="1.65" fill="url(#g6)"/>
<circle cx="491.56" cy="144.30" r="1.65" fill="url(#g5)"/>
<circle cx="491.56" cy="145.93" r="1.65" fill="url(#g5)"/>
<circle cx="491.56" cy="147.55" r="1.65" fill="url(#g5)"/>
<circle cx="491.56" cy="149.18" r="1.65" fill="url(#g5)"/>
<circle cx="491.56" cy="150.80" r="1.65" fill="url(#g5)"/>
<circle cx="491.56" cy="151.50" r="1.65" fill="url(#g6)"/>
<circle cx="491.56" cy="153.40" r="1.65" fill="url(#g6)"/>
<circle cx="491.56" cy="155.40" r="1.65" fill="url(#g5)"/>
<circle cx="491.56" cy="156.70" r="1.65" fill="url(#g5)"/>
<circle cx="491.56" cy="157.30" r="1.65" fill="url(#g3)"/>
<circle cx="491.56" cy="158.97" r="1.65" fill="url(#g6)"/>
<circle cx="491.56" cy="160.64" r="1.65" fill="url(#g3)"/>
<circle cx="491.56" cy="162.31" r="1.65" fill="url(#g5)"/>
<circle cx="491.56" cy="163.99" r="1.65" fill="url(#g6)"/>
<circle cx="491.56" cy="165.66" r="1.65" fill="url(#g3)"/>
<circle cx="491.56" cy="167.33" r="1.65" fill="url(#g3)"/>
<circle cx="491.56" cy="169.00" r="1.65" fill="url(#g6)"/>
<circle cx="491.56" cy="169.70" r="1.65" fill="url(#g7)"/>
<circle cx="491.56" cy="171.17" r="1.65" fill="url(#g7)"/>
<circle cx="491.56" cy="172.65" r="1.65" fill="url(#g7)"/>
<circle cx="491.56" cy="174.12" r="1.65" fill="url(#g7)"/>
<circle cx="491.56" cy="175.60" r="1.65" fill="url(#g7)"/>
<circle cx="491.56" cy="178.80" r="1.65" fill="url(#g5)"/>
<circle cx="491.56" cy="183.40" r="1.65" fill="url(#g7)"/>
<circle cx="491.56" cy="188.00" r="1.65" fill="url(#g5)"/>
<circle cx="491.56" cy="191.20" r="1.65" fill="url(#g5)"/>
<circle cx="627.10" cy="125.20" r="1.65" fill="url(#g6)"/>
<circle cx="627.10" cy="127.80" r="1.65" fill="url(#g3)"/>
<circle cx="627.10" cy="130.80" r="1.65" fill="url(#g3)"/>
<circle cx="627.10" cy="133.80" r="1.65" fill="url(#g6)"/>
<circle cx="627.10" cy="137.50" r="1.65" fill="url(#g3)"/>
<circle cx="627.10" cy="139.13" r="1.65" fill="url(#g6)"/>
<circle cx="627.10" cy="140.77" r="1.65" fill="url(#g3)"/>
<circle cx="627.10" cy="142.40" r="1.65" fill="url(#g3)"/>
<circle cx="627.10" cy="144.03" r="1.65" fill="url(#g6)"/>
<circle cx="627.10" cy="145.67" r="1.65" fill="url(#g3)"/>
<circle cx="627.10" cy="147.30" r="1.65" fill="url(#g3)"/>
<circle cx="627.10" cy="157.10" r="1.65" fill="url(#g5)"/>
<circle cx="627.10" cy="158.60" r="1.65" fill="url(#g5)"/>
<circle cx="627.10" cy="160.10" r="1.65" fill="url(#g5)"/>
<circle cx="627.10" cy="161.60" r="1.65" fill="url(#g5)"/>
<circle cx="627.10" cy="163.10" r="1.65" fill="url(#g5)"/>
<circle cx="627.10" cy="166.10" r="1.65" fill="url(#g5)"/>
<circle cx="627.10" cy="167.79" r="1.65" fill="url(#g7)"/>
<circle cx="627.10" cy="169.47" r="1.65" fill="url(#g7)"/>
<circle cx="627.10" cy="171.16" r="1.65" fill="url(#g5)"/>
<circle cx="627.10" cy="172.85" r="1.65" fill="url(#g7)"/>
<circle cx="627.10" cy="174.54" r="1.65" fill="url(#g7)"/>
<circle cx="627.10" cy="176.22" r="1.65" fill="url(#g5)"/>
<circle cx="627.10" cy="177.91" r="1.65" fill="url(#g7)"/>
<circle cx="627.10" cy="179.60" r="1.65" fill="url(#g7)"/>
<circle cx="627.10" cy="201.70" r="1.65" fill="url(#g5)"/>
<circle cx="627.10" cy="205.50" r="1.65" fill="url(#g5)"/>
<circle cx="627.10" cy="214.70" r="1.65" fill="url(#g5)"/>
<circle cx="627.10" cy="219.10" r="1.65" fill="url(#g5)"/>
</g>
<text x="164.50" y="260.00" font-size="9.50" font-weight="normal" text-anchor="middle" textLength="127.16" lengthAdjust="spacingAndGlyphs" fill="#1a1a1a" stroke="#1a1a1a" stroke-width="0.42">SHAP Dependence Plot for ST</text>
<line x1="40.00" y1="261.60" x2="40.00" y2="481.00" stroke="#a9a9a9" stroke-width="1.60"/>
<line x1="39.20" y1="481.00" x2="289.00" y2="481.00" stroke="#a9a9a9" stroke-width="1.60"/>
<line x1="37.00" y1="469.60" x2="40.20" y2="469.60" stroke="#000" stroke-width="1.50"/>
<text x="35.10" y="471.80" font-size="7.40" font-weight="bold" text-anchor="end" textLength="17.90" lengthAdjust="spacingAndGlyphs" fill="#000" stroke="#000" stroke-width="0.15">−1.0</text>
<line x1="37.00" y1="427.55" x2="40.20" y2="427.55" stroke="#000" stroke-width="1.50"/>
<text x="35.10" y="429.75" font-size="7.40" font-weight="bold" text-anchor="end" textLength="17.90" lengthAdjust="spacingAndGlyphs" fill="#000" stroke="#000" stroke-width="0.15">−0.5</text>
<line x1="37.00" y1="385.50" x2="40.20" y2="385.50" stroke="#000" stroke-width="1.50"/>
<text x="35.10" y="387.70" font-size="7.40" font-weight="bold" text-anchor="end" textLength="12.08" lengthAdjust="spacingAndGlyphs" fill="#000" stroke="#000" stroke-width="0.15">0.0</text>
<line x1="37.00" y1="343.45" x2="40.20" y2="343.45" stroke="#000" stroke-width="1.50"/>
<text x="35.10" y="345.65" font-size="7.40" font-weight="bold" text-anchor="end" textLength="12.08" lengthAdjust="spacingAndGlyphs" fill="#000" stroke="#000" stroke-width="0.15">0.5</text>
<line x1="37.00" y1="301.40" x2="40.20" y2="301.40" stroke="#000" stroke-width="1.50"/>
<text x="35.10" y="303.60" font-size="7.40" font-weight="bold" text-anchor="end" textLength="12.08" lengthAdjust="spacingAndGlyphs" fill="#000" stroke="#000" stroke-width="0.15">1.0</text>
<line x1="51.40" y1="480.80" x2="51.40" y2="484.00" stroke="#000" stroke-width="1.50"/>
<text x="51.40" y="490.00" font-size="7.40" font-weight="bold" text-anchor="middle" textLength="16.91" lengthAdjust="spacingAndGlyphs" fill="#000" stroke="#000" stroke-width="0.15">1.00</text>
<line x1="79.65" y1="480.80" x2="79.65" y2="484.00" stroke="#000" stroke-width="1.50"/>
<text x="79.65" y="490.00" font-size="7.40" font-weight="bold" text-anchor="middle" textLength="16.91" lengthAdjust="spacingAndGlyphs" fill="#000" stroke="#000" stroke-width="0.15">1.25</text>
<line x1="107.90" y1="480.80" x2="107.90" y2="484.00" stroke="#000" stroke-width="1.50"/>
<text x="107.90" y="490.00" font-size="7.40" font-weight="bold" text-anchor="middle" textLength="16.91" lengthAdjust="spacingAndGlyphs" fill="#000" stroke="#000" stroke-width="0.15">1.50</text>
<line x1="136.15" y1="480.80" x2="136.15" y2="484.00" stroke="#000" stroke-width="1.50"/>
<text x="136.15" y="490.00" font-size="7.40" font-weight="bold" text-anchor="middle" textLength="16.91" lengthAdjust="spacingAndGlyphs" fill="#000" stroke="#000" stroke-width="0.15">1.75</text>
<line x1="164.40" y1="480.80" x2="164.40" y2="484.00" stroke="#000" stroke-width="1.50"/>
<text x="164.40" y="490.00" font-size="7.40" font-weight="bold" text-anchor="middle" textLength="16.91" lengthAdjust="spacingAndGlyphs" fill="#000" stroke="#000" stroke-width="0.15">2.00</text>
<line x1="192.65" y1="480.80" x2="192.65" y2="484.00" stroke="#000" stroke-width="1.50"/>
<text x="192.65" y="490.00" font-size="7.40" font-weight="bold" text-anchor="middle" textLength="16.91" lengthAdjust="spacingAndGlyphs" fill="#000" stroke="#000" stroke-width="0.15">2.25</text>
<line x1="220.90" y1="480.80" x2="220.90" y2="484.00" stroke="#000" stroke-width="1.50"/>
<text x="220.90" y="490.00" font-size="7.40" font-weight="bold" text-anchor="middle" textLength="16.91" lengthAdjust="spacingAndGlyphs" fill="#000" stroke="#000" stroke-width="0.15">2.50</text>
<line x1="249.15" y1="480.80" x2="249.15" y2="484.00" stroke="#000" stroke-width="1.50"/>
<text x="249.15" y="490.00" font-size="7.40" font-weight="bold" text-anchor="middle" textLength="16.91" lengthAdjust="spacingAndGlyphs" fill="#000" stroke="#000" stroke-width="0.15">2.75</text>
<line x1="277.40" y1="480.80" x2="277.40" y2="484.00" stroke="#000" stroke-width="1.50"/>
<text x="277.40" y="490.00" font-size="7.40" font-weight="bold" text-anchor="middle" textLength="16.91" lengthAdjust="spacingAndGlyphs" fill="#000" stroke="#000" stroke-width="0.15">3.00</text>
<text x="164.50" y="497.50" font-size="7.00" font-weight="bold" text-anchor="middle" textLength="8.80" lengthAdjust="spacingAndGlyphs" fill="#000" stroke="#000" stroke-width="0.15">ST</text>
<text x="7.00" y="371.25" font-size="6.90" font-weight="bold" text-anchor="middle" textLength="49.89" lengthAdjust="spacingAndGlyphs" fill="#000" transform="rotate(-90 7.00 371.25)" stroke="#000" stroke-width="0.15">SHAP value for</text>
<text x="14.80" y="371.50" font-size="6.90" font-weight="bold" text-anchor="middle" textLength="8.50" lengthAdjust="spacingAndGlyphs" fill="#000" transform="rotate(-90 14.80 371.50)" stroke="#000" stroke-width="0.15">ST</text>
<rect x="304.10" y="261.60" width="3.60" height="219.10" fill="url(#cmapgrad)"/>
<line x1="307.70" y1="480.70" x2="309.20" y2="480.70" stroke="#555" stroke-width="0.70"/>
<text x="311.10" y="483.04" font-size="6.50" font-weight="bold" text-anchor="start" textLength="3.34" lengthAdjust="spacingAndGlyphs" fill="#000" stroke="#000" stroke-width="0.25">0</text>
<line x1="307.70" y1="451.49" x2="309.20" y2="451.49" stroke="#555" stroke-width="0.70"/>
<text x="311.10" y="453.83" font-size="6.50" font-weight="bold" text-anchor="start" textLength="6.68" lengthAdjust="spacingAndGlyphs" fill="#000" stroke="#000" stroke-width="0.25">20</text>
<line x1="307.70" y1="422.27" x2="309.20" y2="422.27" stroke="#555" stroke-width="0.70"/>
<text x="311.10" y="424.61" font-size="6.50" font-weight="bold" text-anchor="start" textLength="6.68" lengthAdjust="spacingAndGlyphs" fill="#000" stroke="#000" stroke-width="0.25">40</text>
<line x1="307.70" y1="393.06" x2="309.20" y2="393.06" stroke="#555" stroke-width="0.70"/>
<text x="311.10" y="395.40" font-size="6.50" font-weight="bold" text-anchor="start" textLength="6.68" lengthAdjust="spacingAndGlyphs" fill="#000" stroke="#000" stroke-width="0.25">60</text>
<line x1="307.70" y1="363.85" x2="309.20" y2="363.85" stroke="#555" stroke-width="0.70"/>
<text x="311.10" y="366.19" font-size="6.50" font-weight="bold" text-anchor="start" textLength="6.68" lengthAdjust="spacingAndGlyphs" fill="#000" stroke="#000" stroke-width="0.25">80</text>
<line x1="307.70" y1="334.63" x2="309.20" y2="334.63" stroke="#555" stroke-width="0.70"/>
<text x="311.10" y="336.97" font-size="6.50" font-weight="bold" text-anchor="start" textLength="10.02" lengthAdjust="spacingAndGlyphs" fill="#000" stroke="#000" stroke-width="0.25">100</text>
<line x1="307.70" y1="305.42" x2="309.20" y2="305.42" stroke="#555" stroke-width="0.70"/>
<text x="311.10" y="307.76" font-size="6.50" font-weight="bold" text-anchor="start" textLength="10.02" lengthAdjust="spacingAndGlyphs" fill="#000" stroke="#000" stroke-width="0.25">120</text>
<line x1="307.70" y1="276.21" x2="309.20" y2="276.21" stroke="#555" stroke-width="0.70"/>
<text x="311.10" y="278.55" font-size="6.50" font-weight="bold" text-anchor="start" textLength="10.02" lengthAdjust="spacingAndGlyphs" fill="#000" stroke="#000" stroke-width="0.25">140</text>
<text x="329.60" y="371.30" font-size="7.00" font-weight="bold" text-anchor="middle" textLength="9.10" lengthAdjust="spacingAndGlyphs" fill="#000" transform="rotate(-90 329.60 371.30)" stroke="#000" stroke-width="0.25">RO</text>
<g>
<circle cx="51.40" cy="271.30" r="1.65" fill="url(#g0)"/>
<circle cx="51.40" cy="275.50" r="1.65" fill="url(#g0)"/>
<circle cx="51.40" cy="283.70" r="1.65" fill="url(#g0)"/>
<circle cx="51.40" cy="289.30" r="1.65" fill="url(#g0)"/>
<circle cx="51.40" cy="328.10" r="1.65" fill="url(#g4)"/>
<circle cx="51.40" cy="333.70" r="1.65" fill="url(#g4)"/>
<circle cx="51.40" cy="340.80" r="1.65" fill="url(#g4)"/>
<circle cx="51.40" cy="345.50" r="1.65" fill="url(#g4)"/>
<circle cx="51.40" cy="360.80" r="1.65" fill="url(#g0)"/>
<circle cx="51.40" cy="368.80" r="1.65" fill="url(#g2)"/>
<circle cx="51.40" cy="372.10" r="1.65" fill="url(#g0)"/>
<circle cx="51.40" cy="374.80" r="1.65" fill="url(#g0)"/>
<circle cx="51.40" cy="376.15" r="1.65" fill="url(#g0)"/>
<circle cx="51.40" cy="377.50" r="1.65" fill="url(#g0)"/>
<circle cx="51.40" cy="378.00" r="1.65" fill="url(#g3)"/>
<circle cx="51.40" cy="380.00" r="1.65" fill="url(#g3)"/>
<circle cx="51.40" cy="381.20" r="1.65" fill="url(#g3)"/>
<circle cx="51.40" cy="382.00" r="1.65" fill="url(#g0)"/>
<circle cx="51.40" cy="383.50" r="1.65" fill="url(#g1)"/>
<circle cx="51.40" cy="385.00" r="1.65" fill="url(#g0)"/>
<circle cx="51.40" cy="386.50" r="1.65" fill="url(#g0)"/>
<circle cx="51.40" cy="388.00" r="1.65" fill="url(#g1)"/>
<circle cx="51.40" cy="389.00" r="1.65" fill="url(#g3)"/>
<circle cx="51.40" cy="389.80" r="1.65" fill="url(#g2)"/>
<circle cx="51.40" cy="391.37" r="1.65" fill="url(#g1)"/>
<circle cx="51.40" cy="392.93" r="1.65" fill="url(#g2)"/>
<circle cx="51.40" cy="394.50" r="1.65" fill="url(#g2)"/>
<circle cx="51.40" cy="396.00" r="1.65" fill="url(#g3)"/>
<circle cx="51.40" cy="397.43" r="1.65" fill="url(#g3)"/>
<circle cx="51.40" cy="398.87" r="1.65" fill="url(#g3)"/>
<circle cx="51.40" cy="400.30" r="1.65" fill="url(#g3)"/>
<circle cx="164.40" cy="392.80" r="1.65" fill="url(#g2)"/>
<circle cx="164.40" cy="394.35" r="1.65" fill="url(#g1)"/>
<circle cx="164.40" cy="395.90" r="1.65" fill="url(#g2)"/>
<circle cx="164.40" cy="397.45" r="1.65" fill="url(#g2)"/>
<circle cx="164.40" cy="399.00" r="1.65" fill="url(#g1)"/>
<circle cx="164.40" cy="399.50" r="1.65" fill="url(#g3)"/>
<circle cx="164.40" cy="401.00" r="1.65" fill="url(#g3)"/>
<circle cx="164.40" cy="402.50" r="1.65" fill="url(#g3)"/>
<circle cx="164.40" cy="403.00" r="1.65" fill="url(#g0)"/>
<circle cx="164.40" cy="405.00" r="1.65" fill="url(#g0)"/>
<circle cx="164.40" cy="407.00" r="1.65" fill="url(#g0)"/>
<circle cx="164.40" cy="408.00" r="1.65" fill="url(#g2)"/>
<circle cx="164.40" cy="409.00" r="1.65" fill="url(#g3)"/>
<circle cx="164.40" cy="410.50" r="1.65" fill="url(#g3)"/>
<circle cx="164.40" cy="412.00" r="1.65" fill="url(#g3)"/>
<circle cx="164.40" cy="412.60" r="1.65" fill="url(#g1)"/>
<circle cx="164.40" cy="413.50" r="1.65" fill="url(#g2)"/>
<circle cx="164.40" cy="414.00" r="1.65" fill="url(#g3)"/>
<circle cx="164.40" cy="416.00" r="1.65" fill="url(#g3)"/>
<circle cx="164.40" cy="416.60" r="1.65" fill="url(#g2)"/>
<circle cx="164.40" cy="418.00" r="1.65" fill="url(#g2)"/>
<circle cx="164.40" cy="418.80" r="1.65" fill="url(#g3)"/>
<circle cx="164.40" cy="420.00" r="1.65" fill="url(#g0)"/>
<circle cx="164.40" cy="421.25" r="1.65" fill="url(#g0)"/>
<circle cx="164.40" cy="422.50" r="1.65" fill="url(#g0)"/>
<circle cx="164.40" cy="423.50" r="1.65" fill="url(#g3)"/>
<circle cx="164.40" cy="424.75" r="1.65" fill="url(#g3)"/>
<circle cx="164.40" cy="426.00" r="1.65" fill="url(#g3)"/>
<circle cx="164.40" cy="426.60" r="1.65" fill="url(#g1)"/>
<circle cx="164.40" cy="429.00" r="1.65" fill="url(#g2)"/>
<circle cx="164.40" cy="431.90" r="1.65" fill="url(#g1)"/>
<circle cx="164.40" cy="434.10" r="1.65" fill="url(#g1)"/>
<circle cx="164.40" cy="438.30" r="1.65" fill="url(#g0)"/>
<circle cx="164.40" cy="442.40" r="1.65" fill="url(#g0)"/>
<circle cx="164.40" cy="444.60" r="1.65" fill="url(#g0)"/>
<circle cx="164.40" cy="446.90" r="1.65" fill="url(#g0)"/>
<circle cx="164.40" cy="451.70" r="1.65" fill="url(#g0)"/>
<circle cx="164.40" cy="453.10" r="1.65" fill="url(#g4)"/>
<circle cx="164.40" cy="455.00" r="1.65" fill="url(#g0)"/>
<circle cx="164.40" cy="457.00" r="1.65" fill="url(#g0)"/>
<circle cx="164.40" cy="458.90" r="1.65" fill="url(#g0)"/>
<circle cx="164.40" cy="465.70" r="1.65" fill="url(#g0)"/>
<circle cx="164.40" cy="468.40" r="1.65" fill="url(#g0)"/>
<circle cx="164.40" cy="471.10" r="1.65" fill="url(#g0)"/>
<circle cx="277.40" cy="301.30" r="1.65" fill="url(#g0)"/>
<circle cx="277.40" cy="313.30" r="1.65" fill="url(#g0)"/>
<circle cx="277.40" cy="320.40" r="1.65" fill="url(#g0)"/>
<circle cx="277.40" cy="323.40" r="1.65" fill="url(#g0)"/>
<circle cx="277.40" cy="331.80" r="1.65" fill="url(#g3)"/>
<circle cx="277.40" cy="335.50" r="1.65" fill="url(#g0)"/>
<circle cx="277.40" cy="336.75" r="1.65" fill="url(#g0)"/>
<circle cx="277.40" cy="338.00" r="1.65" fill="url(#g0)"/>
<circle cx="277.40" cy="338.80" r="1.65" fill="url(#g3)"/>
<circle cx="277.40" cy="339.50" r="1.65" fill="url(#g0)"/>
<circle cx="277.40" cy="341.08" r="1.65" fill="url(#g0)"/>
<circle cx="277.40" cy="342.66" r="1.65" fill="url(#g1)"/>
<circle cx="277.40" cy="344.23" r="1.65" fill="url(#g0)"/>
<circle cx="277.40" cy="345.81" r="1.65" fill="url(#g0)"/>
<circle cx="277.40" cy="347.39" r="1.65" fill="url(#g0)"/>
<circle cx="277.40" cy="348.97" r="1.65" fill="url(#g1)"/>
<circle cx="277.40" cy="350.54" r="1.65" fill="url(#g0)"/>
<circle cx="277.40" cy="352.12" r="1.65" fill="url(#g0)"/>
<circle cx="277.40" cy="353.70" r="1.65" fill="url(#g0)"/>
<circle cx="277.40" cy="356.40" r="1.65" fill="url(#g0)"/>
<circle cx="277.40" cy="358.00" r="1.65" fill="url(#g0)"/>
<circle cx="277.40" cy="358.60" r="1.65" fill="url(#g2)"/>
<circle cx="277.40" cy="360.55" r="1.65" fill="url(#g2)"/>
<circle cx="277.40" cy="362.50" r="1.65" fill="url(#g2)"/>
<circle cx="277.40" cy="363.40" r="1.65" fill="url(#g3)"/>
<circle cx="277.40" cy="365.20" r="1.65" fill="url(#g3)"/>
<circle cx="277.40" cy="365.80" r="1.65" fill="url(#g0)"/>
<circle cx="277.40" cy="367.45" r="1.65" fill="url(#g1)"/>
<circle cx="277.40" cy="369.10" r="1.65" fill="url(#g0)"/>
<circle cx="277.40" cy="370.75" r="1.65" fill="url(#g0)"/>
<circle cx="277.40" cy="372.40" r="1.65" fill="url(#g1)"/>
<circle cx="277.40" cy="375.30" r="1.65" fill="url(#g0)"/>
<circle cx="277.40" cy="376.80" r="1.65" fill="url(#g0)"/>
<circle cx="277.40" cy="378.30" r="1.65" fill="url(#g0)"/>
<circle cx="277.40" cy="381.80" r="1.65" fill="url(#g0)"/>
<circle cx="277.40" cy="412.10" r="1.65" fill="url(#g0)"/>
<circle cx="277.40" cy="414.00" r="1.65" fill="url(#g0)"/>
<circle cx="277.40" cy="415.90" r="1.65" fill="url(#g0)"/>
</g>
<text x="514.40" y="260.00" font-size="9.50" font-weight="normal" text-anchor="middle" textLength="127.16" lengthAdjust="spacingAndGlyphs" fill="#1a1a1a" stroke="#1a1a1a" stroke-width="0.42">SHAP Dependence Plot for SS</text>
<line x1="389.90" y1="261.60" x2="389.90" y2="480.90" stroke="#a9a9a9" stroke-width="1.60"/>
<line x1="389.10" y1="480.90" x2="638.90" y2="480.90" stroke="#a9a9a9" stroke-width="1.60"/>
<line x1="386.90" y1="463.80" x2="390.10" y2="463.80" stroke="#000" stroke-width="1.50"/>
<text x="385.00" y="466.00" font-size="7.40" font-weight="bold" text-anchor="end" textLength="22.73" lengthAdjust="spacingAndGlyphs" fill="#000" stroke="#000" stroke-width="0.15">−1.25</text>
<line x1="386.90" y1="439.40" x2="390.10" y2="439.40" stroke="#000" stroke-width="1.50"/>
<text x="385.00" y="441.60" font-size="7.40" font-weight="bold" text-anchor="end" textLength="22.73" lengthAdjust="spacingAndGlyphs" fill="#000" stroke="#000" stroke-width="0.15">−1.00</text>
<line x1="386.90" y1="415.00" x2="390.10" y2="415.00" stroke="#000" stroke-width="1.50"/>
<text x="385.00" y="417.20" font-size="7.40" font-weight="bold" text-anchor="end" textLength="22.73" lengthAdjust="spacingAndGlyphs" fill="#000" stroke="#000" stroke-width="0.15">−0.75</text>
<line x1="386.90" y1="390.60" x2="390.10" y2="390.60" stroke="#000" stroke-width="1.50"/>
<text x="385.00" y="392.80" font-size="7.40" font-weight="bold" text-anchor="end" textLength="22.73" lengthAdjust="spacingAndGlyphs" fill="#000" stroke="#000" stroke-width="0.15">−0.50</text>
<line x1="386.90" y1="366.20" x2="390.10" y2="366.20" stroke="#000" stroke-width="1.50"/>
<text x="385.00" y="368.40" font-size="7.40" font-weight="bold" text-anchor="end" textLength="22.73" lengthAdjust="spacingAndGlyphs" fill="#000" stroke="#000" stroke-width="0.15">−0.25</text>
<line x1="386.90" y1="341.80" x2="390.10" y2="341.80" stroke="#000" stroke-width="1.50"/>
<text x="385.00" y="344.00" font-size="7.40" font-weight="bold" text-anchor="end" textLength="16.91" lengthAdjust="spacingAndGlyphs" fill="#000" stroke="#000" stroke-width="0.15">0.00</text>
<line x1="386.90" y1="317.40" x2="390.10" y2="317.40" stroke="#000" stroke-width="1.50"/>
<text x="385.00" y="319.60" font-size="7.40" font-weight="bold" text-anchor="end" textLength="16.91" lengthAdjust="spacingAndGlyphs" fill="#000" stroke="#000" stroke-width="0.15">0.25</text>
<line x1="386.90" y1="293.00" x2="390.10" y2="293.00" stroke="#000" stroke-width="1.50"/>
<text x="385.00" y="295.20" font-size="7.40" font-weight="bold" text-anchor="end" textLength="16.91" lengthAdjust="spacingAndGlyphs" fill="#000" stroke="#000" stroke-width="0.15">0.50</text>
<line x1="386.90" y1="268.60" x2="390.10" y2="268.60" stroke="#000" stroke-width="1.50"/>
<text x="385.00" y="270.80" font-size="7.40" font-weight="bold" text-anchor="end" textLength="16.91" lengthAdjust="spacingAndGlyphs" fill="#000" stroke="#000" stroke-width="0.15">0.75</text>
<line x1="401.00" y1="480.70" x2="401.00" y2="483.90" stroke="#000" stroke-width="1.50"/>
<text x="401.00" y="489.90" font-size="7.40" font-weight="bold" text-anchor="middle" textLength="4.83" lengthAdjust="spacingAndGlyphs" fill="#000" stroke="#000" stroke-width="0.15">0</text>
<line x1="446.24" y1="480.70" x2="446.24" y2="483.90" stroke="#000" stroke-width="1.50"/>
<text x="446.24" y="489.90" font-size="7.40" font-weight="bold" text-anchor="middle" textLength="9.66" lengthAdjust="spacingAndGlyphs" fill="#000" stroke="#000" stroke-width="0.15">20</text>
<line x1="491.48" y1="480.70" x2="491.48" y2="483.90" stroke="#000" stroke-width="1.50"/>
<text x="491.48" y="489.90" font-size="7.40" font-weight="bold" text-anchor="middle" textLength="9.66" lengthAdjust="spacingAndGlyphs" fill="#000" stroke="#000" stroke-width="0.15">40</text>
<line x1="536.72" y1="480.70" x2="536.72" y2="483.90" stroke="#000" stroke-width="1.50"/>
<text x="536.72" y="489.90" font-size="7.40" font-weight="bold" text-anchor="middle" textLength="9.66" lengthAdjust="spacingAndGlyphs" fill="#000" stroke="#000" stroke-width="0.15">60</text>
<line x1="581.96" y1="480.70" x2="581.96" y2="483.90" stroke="#000" stroke-width="1.50"/>
<text x="581.96" y="489.90" font-size="7.40" font-weight="bold" text-anchor="middle" textLength="9.66" lengthAdjust="spacingAndGlyphs" fill="#000" stroke="#000" stroke-width="0.15">80</text>
<line x1="627.20" y1="480.70" x2="627.20" y2="483.90" stroke="#000" stroke-width="1.50"/>
<text x="627.20" y="489.90" font-size="7.40" font-weight="bold" text-anchor="middle" textLength="14.49" lengthAdjust="spacingAndGlyphs" fill="#000" stroke="#000" stroke-width="0.15">100</text>
<text x="514.40" y="497.40" font-size="7.00" font-weight="bold" text-anchor="middle" textLength="8.53" lengthAdjust="spacingAndGlyphs" fill="#000" stroke="#000" stroke-width="0.15">SS</text>
<text x="351.90" y="371.20" font-size="6.90" font-weight="bold" text-anchor="middle" textLength="49.89" lengthAdjust="spacingAndGlyphs" fill="#000" transform="rotate(-90 351.90 371.20)" stroke="#000" stroke-width="0.15">SHAP value for</text>
<text x="359.70" y="371.80" font-size="6.90" font-weight="bold" text-anchor="middle" textLength="7.90" lengthAdjust="spacingAndGlyphs" fill="#000" transform="rotate(-90 359.70 371.80)" stroke="#000" stroke-width="0.15">SS</text>
<rect x="654.20" y="407.87" width="3.30" height="73.15" fill="#077ae8"/>
<rect x="654.20" y="334.73" width="3.30" height="73.15" fill="#8d0ea3"/>
<rect x="654.20" y="261.60" width="3.30" height="73.15" fill="#ea063a"/>
<text x="658.80" y="483.27" font-size="6.30" font-weight="bold" text-anchor="start" textLength="16.32" lengthAdjust="spacingAndGlyphs" fill="#000" stroke="#000" stroke-width="0.25">1.000</text>
<text x="658.80" y="410.10" font-size="6.30" font-weight="bold" text-anchor="start" textLength="16.32" lengthAdjust="spacingAndGlyphs" fill="#000" stroke="#000" stroke-width="0.25">1.667</text>
<text x="658.80" y="337.04" font-size="6.30" font-weight="bold" text-anchor="start" textLength="16.32" lengthAdjust="spacingAndGlyphs" fill="#000" stroke="#000" stroke-width="0.25">2.333</text>
<text x="658.80" y="263.87" font-size="6.30" font-weight="bold" text-anchor="start" textLength="16.32" lengthAdjust="spacingAndGlyphs" fill="#000" stroke="#000" stroke-width="0.25">3.000</text>
<text x="683.60" y="371.70" font-size="7.00" font-weight="bold" text-anchor="middle" textLength="8.30" lengthAdjust="spacingAndGlyphs" fill="#000" transform="rotate(-90 683.60 371.70)" stroke="#000" stroke-width="0.25">ST</text>
<g>
<circle cx="401.00" cy="320.90" r="1.65" fill="url(#g8)"/>
<circle cx="401.00" cy="325.80" r="1.65" fill="url(#g8)"/>
<circle cx="401.00" cy="329.40" r="1.65" fill="url(#g7)"/>
<circle cx="401.00" cy="330.60" r="1.65" fill="url(#g7)"/>
<circle cx="401.00" cy="331.00" r="1.65" fill="url(#g8)"/>
<circle cx="401.00" cy="332.45" r="1.65" fill="url(#g8)"/>
<circle cx="401.00" cy="333.90" r="1.65" fill="url(#g7)"/>
<circle cx="401.00" cy="335.35" r="1.65" fill="url(#g8)"/>
<circle cx="401.00" cy="336.80" r="1.65" fill="url(#g8)"/>
<circle cx="401.00" cy="337.30" r="1.65" fill="url(#g7)"/>
<circle cx="401.00" cy="338.90" r="1.65" fill="url(#g8)"/>
<circle cx="401.00" cy="340.50" r="1.65" fill="url(#g7)"/>
<circle cx="401.00" cy="341.00" r="1.65" fill="url(#g7)"/>
<circle cx="401.00" cy="342.55" r="1.65" fill="url(#g7)"/>
<circle cx="401.00" cy="344.10" r="1.65" fill="url(#g7)"/>
<circle cx="401.00" cy="345.65" r="1.65" fill="url(#g7)"/>
<circle cx="401.00" cy="347.20" r="1.65" fill="url(#g7)"/>
<circle cx="401.00" cy="348.00" r="1.65" fill="url(#g3)"/>
<circle cx="401.00" cy="348.80" r="1.65" fill="url(#g7)"/>
<circle cx="401.00" cy="350.60" r="1.65" fill="url(#g7)"/>
<circle cx="401.00" cy="351.20" r="1.65" fill="url(#g3)"/>
<circle cx="401.00" cy="351.80" r="1.65" fill="url(#g7)"/>
<circle cx="401.00" cy="353.75" r="1.65" fill="url(#g7)"/>
<circle cx="401.00" cy="355.70" r="1.65" fill="url(#g7)"/>
<circle cx="401.00" cy="356.30" r="1.65" fill="url(#g3)"/>
<circle cx="401.00" cy="357.40" r="1.65" fill="url(#g8)"/>
<circle cx="401.00" cy="359.10" r="1.65" fill="url(#g7)"/>
<circle cx="401.00" cy="359.70" r="1.65" fill="url(#g3)"/>
<circle cx="401.00" cy="362.00" r="1.65" fill="url(#g3)"/>
<circle cx="401.00" cy="365.00" r="1.65" fill="url(#g3)"/>
<circle cx="401.00" cy="367.30" r="1.65" fill="url(#g3)"/>
<circle cx="401.00" cy="369.60" r="1.65" fill="url(#g3)"/>
<circle cx="401.00" cy="371.80" r="1.65" fill="url(#g3)"/>
<circle cx="401.00" cy="401.10" r="1.65" fill="url(#g7)"/>
<circle cx="401.00" cy="470.60" r="1.65" fill="url(#g7)"/>
<circle cx="457.55" cy="271.30" r="1.65" fill="url(#g7)"/>
<circle cx="457.55" cy="287.20" r="1.65" fill="url(#g7)"/>
<circle cx="457.55" cy="288.50" r="1.65" fill="url(#g7)"/>
<circle cx="457.55" cy="290.10" r="1.65" fill="url(#g3)"/>
<circle cx="457.55" cy="296.60" r="1.65" fill="url(#g3)"/>
<circle cx="457.55" cy="299.30" r="1.65" fill="url(#g3)"/>
<circle cx="457.55" cy="300.99" r="1.65" fill="url(#g3)"/>
<circle cx="457.55" cy="302.68" r="1.65" fill="url(#g3)"/>
<circle cx="457.55" cy="304.37" r="1.65" fill="url(#g3)"/>
<circle cx="457.55" cy="306.06" r="1.65" fill="url(#g3)"/>
<circle cx="457.55" cy="307.74" r="1.65" fill="url(#g3)"/>
<circle cx="457.55" cy="309.43" r="1.65" fill="url(#g3)"/>
<circle cx="457.55" cy="311.12" r="1.65" fill="url(#g3)"/>
<circle cx="457.55" cy="312.81" r="1.65" fill="url(#g3)"/>
<circle cx="457.55" cy="314.50" r="1.65" fill="url(#g3)"/>
<circle cx="457.55" cy="315.20" r="1.65" fill="url(#g7)"/>
<circle cx="457.55" cy="316.60" r="1.65" fill="url(#g7)"/>
<circle cx="457.55" cy="318.00" r="1.65" fill="url(#g7)"/>
<circle cx="457.55" cy="319.40" r="1.65" fill="url(#g7)"/>
<circle cx="457.55" cy="320.30" r="1.65" fill="url(#g8)"/>
<circle cx="457.55" cy="321.95" r="1.65" fill="url(#g8)"/>
<circle cx="457.55" cy="323.60" r="1.65" fill="url(#g8)"/>
<circle cx="457.55" cy="325.25" r="1.65" fill="url(#g7)"/>
<circle cx="457.55" cy="326.90" r="1.65" fill="url(#g8)"/>
<circle cx="457.55" cy="328.55" r="1.65" fill="url(#g8)"/>
<circle cx="457.55" cy="330.20" r="1.65" fill="url(#g8)"/>
<circle cx="457.55" cy="331.85" r="1.65" fill="url(#g8)"/>
<circle cx="457.55" cy="333.50" r="1.65" fill="url(#g8)"/>
<circle cx="514.10" cy="296.00" r="1.65" fill="url(#g7)"/>
<circle cx="514.10" cy="316.30" r="1.65" fill="url(#g7)"/>
<circle cx="514.10" cy="317.55" r="1.65" fill="url(#g7)"/>
<circle cx="514.10" cy="318.80" r="1.65" fill="url(#g7)"/>
<circle cx="514.10" cy="322.30" r="1.65" fill="url(#g3)"/>
<circle cx="514.10" cy="324.10" r="1.65" fill="url(#g3)"/>
<circle cx="514.10" cy="325.78" r="1.65" fill="url(#g3)"/>
<circle cx="514.10" cy="327.45" r="1.65" fill="url(#g3)"/>
<circle cx="514.10" cy="329.12" r="1.65" fill="url(#g3)"/>
<circle cx="514.10" cy="330.80" r="1.65" fill="url(#g3)"/>
<circle cx="514.10" cy="331.60" r="1.65" fill="url(#g7)"/>
<circle cx="514.10" cy="333.37" r="1.65" fill="url(#g8)"/>
<circle cx="514.10" cy="335.13" r="1.65" fill="url(#g7)"/>
<circle cx="514.10" cy="336.90" r="1.65" fill="url(#g8)"/>
<circle cx="514.10" cy="337.60" r="1.65" fill="url(#g8)"/>
<circle cx="514.10" cy="339.10" r="1.65" fill="url(#g8)"/>
<circle cx="514.10" cy="340.60" r="1.65" fill="url(#g8)"/>
<circle cx="514.10" cy="342.10" r="1.65" fill="url(#g8)"/>
<circle cx="514.10" cy="343.60" r="1.65" fill="url(#g8)"/>
<circle cx="570.65" cy="324.00" r="1.65" fill="url(#g7)"/>
<circle cx="570.65" cy="338.30" r="1.65" fill="url(#g7)"/>
<circle cx="570.65" cy="340.40" r="1.65" fill="url(#g3)"/>
<circle cx="570.65" cy="341.60" r="1.65" fill="url(#g3)"/>
<circle cx="570.65" cy="342.80" r="1.65" fill="url(#g7)"/>
<circle cx="570.65" cy="344.00" r="1.65" fill="url(#g7)"/>
<circle cx="570.65" cy="344.80" r="1.65" fill="url(#g8)"/>
<circle cx="570.65" cy="346.50" r="1.65" fill="url(#g8)"/>
<circle cx="570.65" cy="346.90" r="1.65" fill="url(#g7)"/>
<circle cx="570.65" cy="348.90" r="1.65" fill="url(#g7)"/>
<circle cx="570.65" cy="350.00" r="1.65" fill="url(#g3)"/>
<circle cx="570.65" cy="351.30" r="1.65" fill="url(#g3)"/>
<circle cx="570.65" cy="352.90" r="1.65" fill="url(#g8)"/>
<circle cx="570.65" cy="355.30" r="1.65" fill="url(#g7)"/>
<circle cx="627.20" cy="345.20" r="1.65" fill="url(#g7)"/>
<circle cx="627.20" cy="354.40" r="1.65" fill="url(#g7)"/>
<circle cx="627.20" cy="355.20" r="1.65" fill="url(#g7)"/>
<circle cx="627.20" cy="355.60" r="1.65" fill="url(#g8)"/>
<circle cx="627.20" cy="357.00" r="1.65" fill="url(#g8)"/>
<circle cx="627.20" cy="358.40" r="1.65" fill="url(#g8)"/>
<circle cx="627.20" cy="359.20" r="1.65" fill="url(#g7)"/>
<circle cx="627.20" cy="360.80" r="1.65" fill="url(#g3)"/>
<circle cx="627.20" cy="362.23" r="1.65" fill="url(#g3)"/>
<circle cx="627.20" cy="363.65" r="1.65" fill="url(#g3)"/>
<circle cx="627.20" cy="365.07" r="1.65" fill="url(#g3)"/>
<circle cx="627.20" cy="366.50" r="1.65" fill="url(#g3)"/>
<circle cx="627.20" cy="367.65" r="1.65" fill="url(#g7)"/>
<circle cx="627.20" cy="369.30" r="1.65" fill="url(#g3)"/>
<circle cx="627.20" cy="371.70" r="1.65" fill="url(#g3)"/>
</g></svg>
</body></html>
